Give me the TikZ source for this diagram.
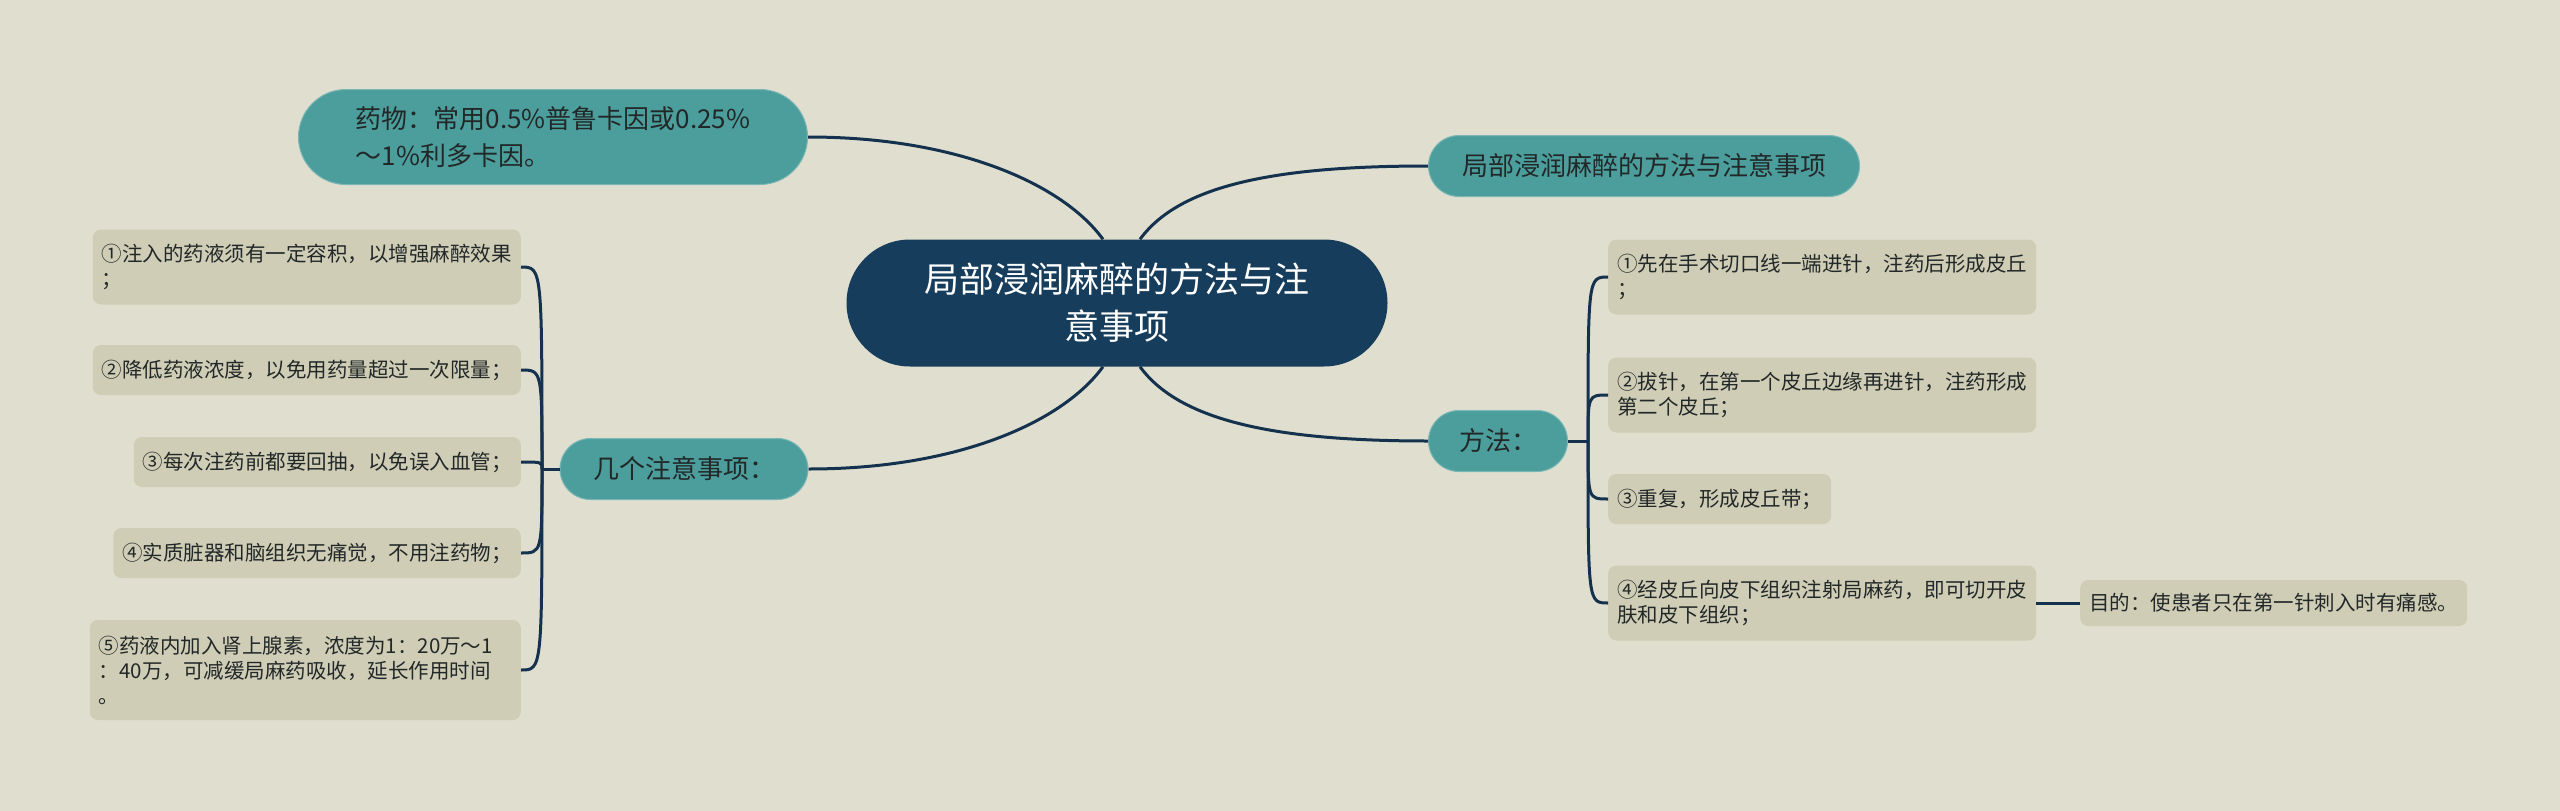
\documentclass[tikz,border=0pt]{standalone}
\usepackage{fontspec}
\setmainfont{Noto Sans CJK SC}
\usetikzlibrary{shapes.misc}
\definecolor{paper}{RGB}{224,223,207}
\definecolor{navybox}{RGB}{23,61,92}
\definecolor{tealbox}{RGB}{76,158,157}
\definecolor{leafbox}{RGB}{207,205,182}
\definecolor{linkcol}{RGB}{20,50,78}
\definecolor{inkcol}{RGB}{34,40,40}

\tikzset{
        root/.style = {rounded rectangle,fill=navybox,text=white,minimum width=541pt,minimum height=127pt,inner sep=0pt,align=center,font=\fontsize{35}{47}\selectfont},
        topic/.style = {rounded rectangle,fill=tealbox,draw=tealbox!75!white,line width=1pt,text=inkcol,minimum height=61pt,inner sep=0pt,font=\fontsize{26}{37}\selectfont},
        leaf/.style = {rectangle,rounded corners=8pt,fill=leafbox,text=inkcol,minimum height=50pt,inner xsep=9pt,inner ysep=0pt,align=left,font=\fontsize{20.5}{25}\selectfont},
        link/.style = {draw=linkcol,line width=3pt}
    }

\begin{document}
\begin{tikzpicture}[x=1pt,y=-1pt]
            \fill[paper] (0,0) rectangle (2560,811);

            \node[root] (c) at (1117, 303) {局部浸润麻醉的方法与注\\意事项};

            \node[topic,minimum width=509pt,minimum height=95pt,align=left] (yw) at (553, 137) {药物：常用0.5\%普鲁卡因或0.25\%\\～1\%利多卡因。};
            \node[topic,minimum width=248pt] (m) at (684, 469) {几个注意事项：};
            \node[topic,minimum width=431pt] (rt) at (1644, 166) {局部浸润麻醉的方法与注意事项};
            \node[topic,minimum width=139pt] (f) at (1498, 441) {方法：};

            \node[leaf,anchor=east,minimum height=75pt] (l1) at (521, 267) {①注入的药液须有一定容积，以增强麻醉效果\\；};
            \node[leaf,anchor=east] (l2) at (521, 370) {②降低药液浓度，以免用药量超过一次限量；};
            \node[leaf,anchor=east] (l3) at (521, 462) {③每次注药前都要回抽，以免误入血管；};
            \node[leaf,anchor=east] (l4) at (521, 553) {④实质脏器和脑组织无痛觉，不用注药物；};
            \node[leaf,anchor=east,minimum height=100pt,text width=413pt] (l5) at (521, 670) {⑤药液内加入肾上腺素，浓度为1：20万～1\\：40万，可减缓局麻药吸收，延长作用时间\\。};

            \node[leaf,anchor=west,minimum height=75pt] (r1) at (1608, 277) {①先在手术切口线一端进针，注药后形成皮丘\\；};
            \node[leaf,anchor=west,minimum height=75pt] (r2) at (1608, 395) {②拔针，在第一个皮丘边缘再进针，注药形成\\第二个皮丘；};
            \node[leaf,anchor=west] (r3) at (1608, 499) {③重复，形成皮丘带；};
            \node[leaf,anchor=west,minimum height=75pt] (r4) at (1608, 603) {④经皮丘向皮下组织注射局麻药，即可切开皮\\肤和皮下组织；};
            \node[leaf,anchor=west,minimum height=46pt] (goal) at (2080, 603) {目的：使患者只在第一针刺入时有痛感。};

            \coordinate (mj) at (542, 469);
            \coordinate (fj) at (1588, 441);

            \draw[link] ([xshift=-14pt]c.north) .. controls +(-40,-55) and +(150,0) .. (yw.east);
            \draw[link] ([xshift=23pt]c.north) .. controls +(40,-55) and +(-150,0) .. (rt.west);
            \draw[link] ([xshift=-14pt]c.south) .. controls +(-40,55) and +(150,0) .. (m.east);
            \draw[link] ([xshift=23pt]c.south) .. controls +(40,55) and +(-150,0) .. (f.west);

            \draw[link] (m.west) -- (mj);
            \draw[link] (mj) .. controls (mj |- l1.east) .. (l1.east);
            \draw[link] (mj) .. controls (mj |- l2.east) .. (l2.east);
            \draw[link] (mj) .. controls (mj |- l3.east) .. (l3.east);
            \draw[link] (mj) .. controls (mj |- l4.east) .. (l4.east);
            \draw[link] (mj) .. controls (mj |- l5.east) .. (l5.east);

            \draw[link] (f.east) -- (fj);
            \draw[link] (fj) .. controls (fj |- r1.west) .. (r1.west);
            \draw[link] (fj) .. controls (fj |- r2.west) .. (r2.west);
            \draw[link] (fj) .. controls (fj |- r3.west) .. (r3.west);
            \draw[link] (fj) .. controls (fj |- r4.west) .. (r4.west);

            \draw[link] (r4.east) -- (goal.west);
        \end{tikzpicture}
\end{document}
